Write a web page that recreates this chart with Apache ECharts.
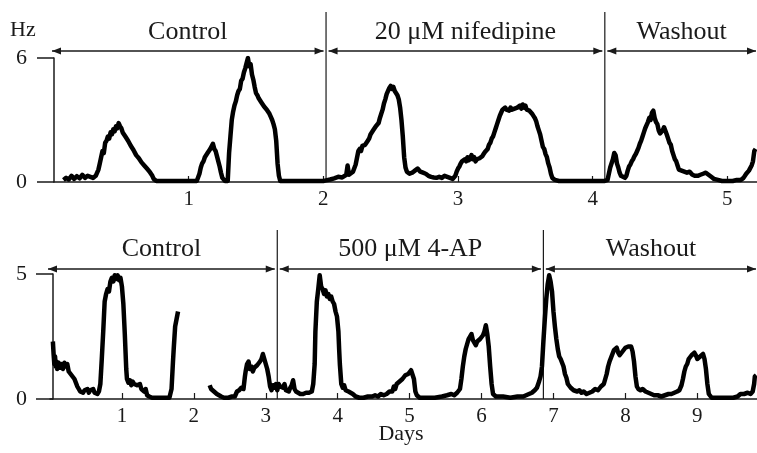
<!DOCTYPE html>
<html>
<head>
<meta charset="utf-8">
<script src="https://cdn.jsdelivr.net/npm/echarts@6/dist/echarts.min.js"></script>
<style>
html,body{margin:0;padding:0;background:#fff;}
#chart{width:757px;height:453px;}
</style>
</head>
<body>
<div id="chart"></div>
<script>
// ---------- DATA ----------
var topTicks = [1, 2, 3, 4, 5];
var bottomTicks = [1, 2, 3, 4, 5, 6, 7, 8, 9];
var topPhaseNames = ['Control', '20 \u03bcM nifedipine', 'Washout'];
var topPhaseBounds = [0, 2.02, 4.09, 5.22];
var bottomPhaseNames = ['Control', '500 \u03bcM 4-AP', 'Washout'];
var bottomPhaseBounds = [0, 3.16, 6.86, 9.83];

// top panel trace: [day, Hz]
var topTrace = [
[0.07,0.1],[0.09,0.2],[0.11,0.12],[0.13,0.3],[0.15,0.15],[0.17,0.28],[0.19,0.18],[0.21,0.35],[0.23,0.2],[0.25,0.3],
[0.27,0.25],[0.29,0.2],[0.31,0.3],[0.33,0.6],[0.34,0.9],[0.35,1.2],[0.36,1.5],[0.37,1.4],[0.38,1.9],[0.39,2.0],
[0.40,2.2],[0.41,2.1],[0.42,2.4],[0.43,2.3],[0.44,2.55],[0.45,2.45],[0.46,2.7],[0.47,2.6],[0.48,2.85],[0.49,2.7],
[0.50,2.6],[0.51,2.4],[0.52,2.45],[0.53,2.2],[0.54,2.25],[0.55,2.0],[0.56,1.95],[0.57,1.75],[0.58,1.8],[0.59,1.55],
[0.60,1.5],[0.61,1.3],[0.62,1.35],[0.63,1.15],[0.64,1.2],[0.65,0.95],[0.66,1.0],[0.67,0.8],[0.68,0.85],[0.69,0.65],
[0.70,0.7],[0.71,0.5],[0.72,0.55],[0.73,0.3],[0.74,0.15],[0.76,0.05],[0.80,0.05],[0.90,0.05],[1.00,0.05],[1.06,0.05],
[1.08,0.4],[1.09,0.7],[1.10,0.9],[1.11,1.0],[1.12,1.2],[1.13,1.15],[1.14,1.4],[1.15,1.35],[1.16,1.6],[1.17,1.55],
[1.18,1.85],[1.19,1.6],[1.20,1.5],[1.21,1.25],[1.22,1.0],[1.23,0.75],[1.24,0.45],[1.25,0.2],[1.27,0.05],[1.29,0.05],
[1.30,1.4],[1.31,2.2],[1.32,3.0],[1.33,3.4],[1.34,3.7],[1.35,3.9],[1.36,4.2],[1.37,4.4],[1.38,4.5],[1.39,4.9],
[1.40,5.0],[1.41,5.3],[1.42,5.5],[1.43,5.75],[1.44,6.0],[1.45,5.6],[1.46,5.7],[1.47,5.2],[1.48,4.95],[1.49,4.6],
[1.50,4.3],[1.51,4.2],[1.52,4.05],[1.53,4.0],[1.54,3.85],[1.55,3.8],[1.56,3.65],[1.57,3.6],[1.58,3.5],[1.59,3.4],
[1.60,3.3],[1.61,3.15],[1.62,3.0],[1.63,2.8],[1.64,2.55],[1.65,2.0],[1.66,0.9],[1.67,0.3],[1.68,0.05],[1.80,0.05],
[1.90,0.05],[2.00,0.05],[2.02,0.08],[2.05,0.12],[2.08,0.18],[2.11,0.25],[2.14,0.22],[2.17,0.35],[2.18,0.8],[2.19,0.35],
[2.22,0.5],[2.24,0.85],[2.25,0.9],[2.26,1.5],[2.27,1.6],[2.28,1.5],[2.29,1.75],[2.30,1.7],[2.31,1.8],[2.32,1.9],
[2.33,2.0],[2.34,2.1],[2.35,2.3],[2.36,2.35],[2.37,2.5],[2.38,2.55],[2.39,2.7],[2.40,2.75],[2.41,2.85],[2.42,3.1],
[2.43,3.3],[2.44,3.5],[2.45,3.8],[2.46,4.0],[2.47,4.25],[2.48,4.3],[2.49,4.55],[2.50,4.65],[2.51,4.5],[2.52,4.6],
[2.53,4.4],[2.54,4.45],[2.55,4.2],[2.56,4.0],[2.57,3.6],[2.58,3.0],[2.59,2.2],[2.60,1.2],[2.61,0.7],[2.62,0.5],
[2.64,0.4],[2.66,0.45],[2.68,0.55],[2.70,0.65],[2.72,0.5],[2.74,0.45],[2.76,0.4],[2.78,0.3],[2.80,0.25],[2.82,0.22],
[2.84,0.2],[2.86,0.25],[2.88,0.2],[2.90,0.3],[2.92,0.25],[2.94,0.2],[2.96,0.15],[2.98,0.3],[2.99,0.5],[3.00,0.65],
[3.01,0.75],[3.02,0.9],[3.03,1.0],[3.04,0.95],[3.05,1.1],[3.06,1.0],[3.07,1.2],[3.08,1.05],[3.09,1.15],[3.10,1.3],
[3.11,1.1],[3.12,1.2],[3.13,1.0],[3.14,1.1],[3.15,1.05],[3.16,1.15],[3.17,1.2],[3.18,1.25],[3.19,1.35],[3.20,1.45],
[3.21,1.5],[3.22,1.6],[3.23,1.8],[3.24,1.9],[3.25,2.1],[3.26,2.2],[3.27,2.4],[3.28,2.6],[3.29,2.8],[3.30,3.0],
[3.31,3.2],[3.32,3.35],[3.33,3.5],[3.34,3.45],[3.35,3.6],[3.36,3.5],[3.37,3.55],[3.38,3.45],[3.39,3.6],[3.40,3.5],
[3.41,3.45],[3.42,3.55],[3.43,3.5],[3.44,3.6],[3.45,3.55],[3.46,3.7],[3.47,3.55],[3.48,3.75],[3.49,3.6],[3.50,3.7],
[3.51,3.5],[3.52,3.55],[3.53,3.45],[3.54,3.5],[3.55,3.3],[3.56,3.2],[3.57,3.1],[3.58,2.95],[3.59,2.7],[3.60,2.5],
[3.61,2.3],[3.62,2.0],[3.63,1.7],[3.64,1.6],[3.65,1.35],[3.66,1.2],[3.67,0.9],[3.68,0.7],[3.69,0.4],[3.70,0.2],
[3.72,0.1],[3.75,0.05],[3.90,0.05],[4.00,0.05],[4.09,0.05],[4.11,0.1],[4.13,0.7],[4.15,1.1],[4.16,1.4],[4.17,1.3],
[4.18,0.9],[4.19,0.7],[4.20,0.45],[4.21,0.3],[4.22,0.25],[4.24,0.2],[4.25,0.3],[4.26,0.55],[4.27,0.75],[4.28,0.85],
[4.29,1.0],[4.30,1.1],[4.31,1.25],[4.32,1.35],[4.33,1.5],[4.34,1.65],[4.35,1.85],[4.36,2.0],[4.37,2.2],[4.38,2.4],
[4.39,2.6],[4.40,2.75],[4.41,2.9],[4.42,3.1],[4.43,3.0],[4.44,3.35],[4.45,3.45],[4.46,3.1],[4.47,2.9],[4.48,2.8],
[4.49,2.5],[4.50,2.35],[4.51,2.4],[4.52,2.5],[4.53,2.65],[4.54,2.6],[4.55,2.3],[4.56,2.1],[4.57,1.9],[4.58,1.8],
[4.59,1.5],[4.60,1.3],[4.61,1.1],[4.62,1.0],[4.63,0.8],[4.64,0.6],[4.66,0.55],[4.68,0.5],[4.70,0.45],[4.72,0.5],
[4.74,0.35],[4.76,0.3],[4.78,0.3],[4.80,0.35],[4.82,0.4],[4.84,0.45],[4.86,0.35],[4.88,0.25],[4.90,0.15],[4.93,0.1],
[4.96,0.05],[5.00,0.05],[5.04,0.05],[5.07,0.1],[5.10,0.1],[5.12,0.2],[5.14,0.4],[5.16,0.55],[5.18,0.8],[5.19,1.0],
[5.20,1.5],[5.21,1.6]
];

// bottom panel trace: [day, Hz]; '-' marks a gap in the recording
var bottomTrace = [
[0.04,2.3],[0.05,1.8],[0.06,1.4],[0.07,1.7],[0.08,1.3],[0.09,1.5],[0.10,1.2],[0.12,1.45],[0.14,1.25],[0.16,1.4],
[0.18,1.2],[0.20,1.45],[0.22,1.3],[0.24,1.4],[0.26,1.1],[0.28,1.15],[0.30,0.95],[0.32,1.0],[0.34,0.8],[0.36,0.75],
[0.38,0.5],[0.40,0.45],[0.42,0.3],[0.44,0.35],[0.46,0.25],[0.48,0.35],[0.50,0.3],[0.52,0.4],[0.54,0.25],[0.56,0.35],
[0.58,0.3],[0.60,0.4],[0.62,0.25],[0.64,0.3],[0.66,0.2],[0.68,0.3],[0.70,0.6],[0.72,1.6],[0.74,2.7],[0.76,3.9],
[0.78,4.2],[0.80,4.4],[0.82,4.3],[0.84,4.7],[0.86,4.85],[0.88,4.7],[0.90,4.95],[0.92,4.8],[0.94,4.95],[0.96,4.75],
[0.98,4.85],[1.00,4.5],[1.02,3.8],[1.04,2.6],[1.06,1.2],[1.07,0.8],[1.09,0.65],[1.11,0.75],[1.13,0.55],[1.15,0.7],
[1.17,0.6],[1.19,0.65],[1.21,0.55],[1.23,0.5],[1.25,0.6],[1.27,0.4],[1.29,0.45],[1.31,0.3],[1.33,0.4],[1.35,0.15],
[1.38,0.1],[1.42,0.05],[1.50,0.05],[1.55,0.05],[1.60,0.05],[1.66,0.05],[1.69,0.4],[1.71,1.5],[1.72,2.0],[1.74,2.9],
[1.76,3.2],[1.78,3.5],[2.00,'-'],
[2.22,0.55],[2.24,0.4],[2.26,0.45],[2.28,0.3],[2.30,0.35],[2.32,0.2],[2.35,0.15],[2.38,0.1],[2.42,0.05],[2.48,0.05],
[2.53,0.1],[2.57,0.1],[2.60,0.3],[2.63,0.35],[2.66,0.45],[2.69,0.4],[2.71,0.9],[2.72,1.1],[2.74,1.4],[2.76,1.5],
[2.78,1.2],[2.80,1.3],[2.82,1.1],[2.84,1.25],[2.86,1.2],[2.88,1.35],[2.90,1.3],[2.92,1.5],[2.94,1.6],[2.96,1.8],
[2.98,1.6],[3.00,1.55],[3.02,1.2],[3.04,0.9],[3.06,0.5],[3.08,0.35],[3.10,0.55],[3.12,0.45],[3.14,0.6],[3.16,0.35],
[3.18,0.6],[3.20,0.5],[3.22,0.55],[3.24,0.45],[3.26,0.6],[3.28,0.35],[3.30,0.4],[3.32,0.3],[3.34,0.45],[3.36,0.55],
[3.38,0.75],[3.40,0.4],[3.42,0.3],[3.44,0.25],[3.48,0.2],[3.52,0.2],[3.56,0.25],[3.60,0.25],[3.64,0.3],[3.66,0.6],
[3.68,1.4],[3.69,2.7],[3.71,3.9],[3.73,4.4],[3.75,4.95],[3.77,4.5],[3.79,4.4],[3.81,4.2],[3.83,4.35],[3.85,4.1],
[3.87,4.2],[3.89,4.0],[3.91,4.1],[3.93,3.9],[3.95,3.8],[3.97,3.5],[3.99,3.3],[4.01,2.7],[4.02,2.0],[4.03,1.4],
[4.05,0.6],[4.07,0.45],[4.09,0.55],[4.11,0.35],[4.13,0.4],[4.15,0.3],[4.18,0.25],[4.21,0.2],[4.25,0.1],[4.30,0.05],
[4.36,0.05],[4.42,0.1],[4.48,0.1],[4.52,0.15],[4.56,0.1],[4.60,0.2],[4.64,0.15],[4.68,0.2],[4.72,0.3],[4.76,0.3],
[4.78,0.5],[4.80,0.4],[4.82,0.6],[4.84,0.55],[4.86,0.7],[4.88,0.65],[4.90,0.8],[4.92,0.75],[4.94,0.95],[4.96,0.9],
[4.98,1.0],[5.00,1.0],[5.02,1.15],[5.04,1.1],[5.06,0.8],[5.08,0.3],[5.10,0.15],[5.14,0.05],[5.25,0.05],[5.35,0.05],
[5.45,0.1],[5.52,0.15],[5.58,0.2],[5.62,0.15],[5.66,0.25],[5.70,0.4],[5.72,0.8],[5.74,1.3],[5.76,1.7],[5.78,2.0],
[5.80,2.2],[5.82,2.4],[5.84,2.5],[5.86,2.6],[5.88,2.35],[5.90,2.3],[5.92,2.15],[5.94,2.3],[5.96,2.25],[5.98,2.4],
[6.00,2.45],[6.02,2.55],[6.04,2.7],[6.06,2.95],[6.08,2.6],[6.10,2.1],[6.12,1.3],[6.14,0.6],[6.16,0.2],[6.20,0.1],
[6.30,0.1],[6.40,0.05],[6.50,0.1],[6.58,0.1],[6.62,0.15],[6.66,0.2],[6.70,0.25],[6.74,0.35],[6.77,0.45],[6.80,0.7],
[6.82,0.9],[6.84,1.3],[6.86,2.3],[6.88,3.2],[6.90,4.0],[6.92,4.6],[6.94,4.95],[6.96,4.7],[6.98,4.3],[7.00,3.5],
[7.02,2.9],[7.04,2.4],[7.06,2.0],[7.08,1.7],[7.10,1.6],[7.12,1.45],[7.14,1.3],[7.16,1.0],[7.18,0.85],[7.20,0.6],
[7.22,0.65],[7.24,0.45],[7.26,0.5],[7.28,0.35],[7.30,0.4],[7.33,0.3],[7.36,0.35],[7.39,0.25],[7.42,0.3],[7.46,0.2],
[7.50,0.25],[7.54,0.3],[7.58,0.4],[7.62,0.35],[7.66,0.5],[7.70,0.6],[7.72,0.8],[7.74,1.0],[7.76,1.3],[7.78,1.5],
[7.80,1.65],[7.82,1.8],[7.84,1.95],[7.86,2.0],[7.88,2.05],[7.90,1.85],[7.92,1.75],[7.94,1.8],[7.96,1.9],[7.98,1.95],
[8.00,2.05],[8.02,2.0],[8.04,2.1],[8.06,2.05],[8.08,2.1],[8.10,1.9],[8.12,1.5],[8.14,0.9],[8.16,0.5],[8.18,0.4],
[8.21,0.35],[8.24,0.4],[8.28,0.3],[8.32,0.25],[8.36,0.2],[8.40,0.15],[8.45,0.15],[8.50,0.1],[8.55,0.15],[8.60,0.2],
[8.64,0.2],[8.68,0.25],[8.72,0.3],[8.75,0.35],[8.78,0.55],[8.80,0.8],[8.82,1.1],[8.84,1.3],[8.86,1.4],[8.88,1.6],
[8.90,1.65],[8.92,1.75],[8.94,1.8],[8.96,1.85],[8.98,1.75],[9.00,1.6],[9.02,1.65],[9.04,1.7],[9.06,1.75],[9.08,1.8],
[9.10,1.6],[9.12,1.2],[9.14,0.6],[9.16,0.2],[9.20,0.05],[9.30,0.05],[9.40,0.05],[9.50,0.05],[9.56,0.1],[9.60,0.2],
[9.65,0.2],[9.70,0.25],[9.74,0.2],[9.77,0.3],[9.79,0.6],[9.80,0.9],[9.82,0.95]
];

// ---------- CHART ----------
var FONT = '"Liberation Serif", "DejaVu Serif", serif';
var INK = '#1a1a1a';
var chart = echarts.init(document.getElementById('chart'), null, {renderer: 'canvas'});

function xAx(grid, max, ticks) {
  return {
    gridIndex: grid, type: 'value', min: 0, max: max, interval: 1,
    axisLine: {onZero: false, lineStyle: {color: INK, width: 1.5}},
    axisTick: {inside: true, length: 6, lineStyle: {color: INK, width: 1.2},
      customValues: ticks},
    axisLabel: {customValues: ticks, fontFamily: FONT, fontSize: 21, color: INK, margin: 7},
    splitLine: {show: false}
  };
}
function yAx(grid, max, offset, margin) {
  return {
    gridIndex: grid, type: 'value', min: 0, max: max, interval: max, offset: offset,
    axisLine: {show: true, lineStyle: {color: INK, width: 1.5}},
    axisTick: {show: true, length: 17, lineStyle: {color: INK, width: 1.5}},
    axisLabel: {fontFamily: FONT, fontSize: 22, color: INK, margin: margin},
    splitLine: {show: false}
  };
}

var option = {
  animation: false,
  backgroundColor: '#fff',
  grid: [
    {left: 54, top: 58, width: 703, height: 124},
    {left: 50, top: 274, width: 707, height: 125}
  ],
  xAxis: [xAx(0, 5.22, topTicks), xAx(1, 9.83, bottomTicks)],
  yAxis: [yAx(0, 6, 0, 27), yAx(1, 5, -3, 26)],
  series: [
    {type: 'line', xAxisIndex: 0, yAxisIndex: 0, data: topTrace, showSymbol: false,
      lineStyle: {color: '#000', width: 4.5, join: 'round'}, connectNulls: false},
    {type: 'line', xAxisIndex: 1, yAxisIndex: 1, data: bottomTrace, showSymbol: false,
      lineStyle: {color: '#000', width: 4.5, join: 'round'}, connectNulls: false}
  ]
};
chart.setOption(option);

function arrowHead(x, y, dir) {
  // dir = -1 points left, +1 points right
  return {type: 'polygon', shape: {points: [[x, y], [x - dir * 9, y - 3.5], [x - dir * 9, y + 3.5]]},
    style: {fill: INK}, silent: true};
}

function phaseGraphics(gridIndex, names, bounds, lineTop, arrowY, textY) {
  var g = [];
  var px = bounds.map(function (b) { return chart.convertToPixel({gridIndex: gridIndex}, [b, 0])[0]; });
  var baseY = chart.convertToPixel({gridIndex: gridIndex}, [0, 0])[1];
  for (var i = 1; i < bounds.length - 1; i++) {
    g.push({type: 'line', shape: {x1: px[i], y1: lineTop, x2: px[i], y2: baseY},
      style: {stroke: INK, lineWidth: 1.2}, silent: true});
  }
  for (var j = 0; j < names.length; j++) {
    var a = (j === 0) ? px[j] - 2 : px[j] + 2.5;
    var b = (j === names.length - 1) ? 756 : px[j + 1] - 2.5;
    g.push({type: 'line', shape: {x1: a, y1: arrowY, x2: b, y2: arrowY},
      style: {stroke: INK, lineWidth: 1.3}, silent: true});
    g.push(arrowHead(a, arrowY, -1));
    g.push(arrowHead(b, arrowY, 1));
    g.push({type: 'text', x: (a + b) / 2, y: textY,
      style: {text: names[j], font: '26px ' + FONT, fill: INK, align: 'center', verticalAlign: 'middle'},
      silent: true});
  }
  return g;
}

var graphics = []
  .concat(phaseGraphics(0, topPhaseNames, topPhaseBounds, 12, 51, 32))
  .concat(phaseGraphics(1, bottomPhaseNames, bottomPhaseBounds, 230, 269, 249));
graphics.push({type: 'text', x: 10, y: 30,
  style: {text: 'Hz', font: '22px ' + FONT, fill: INK, align: 'left', verticalAlign: 'middle'}, silent: true});
graphics.push({type: 'text', x: 401, y: 434,
  style: {text: 'Days', font: '22px ' + FONT, fill: INK, align: 'center', verticalAlign: 'middle'}, silent: true});
chart.setOption({graphic: graphics});
</script>
</body>
</html>
